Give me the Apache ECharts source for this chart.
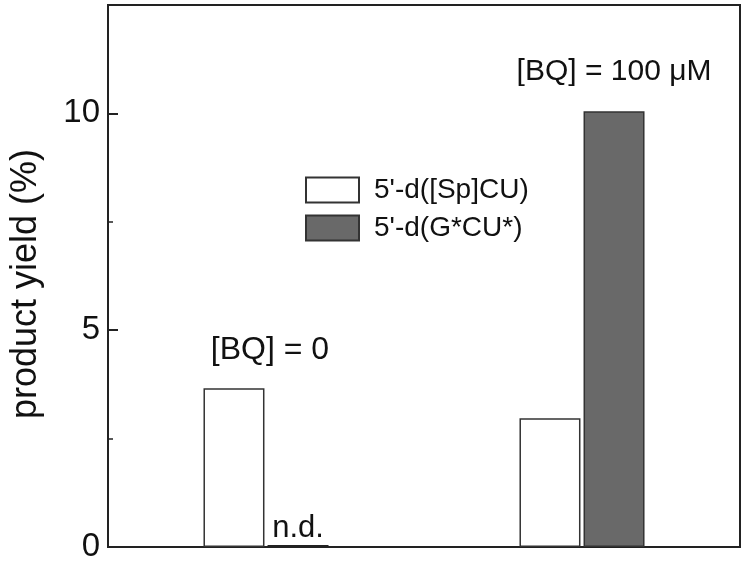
<!DOCTYPE html>
<html>
<head>
<meta charset="utf-8">
<script src="https://cdn.jsdelivr.net/npm/echarts@6/dist/echarts.min.js"></script>
<style>html,body{margin:0;padding:0;background:#fff;}#c{width:750px;height:564px;}</style>
</head>
<body>
<div id="c"></div>
<script>
const categories = ['[BQ] = 0', '[BQ] = 100 μM'];
const seriesNames = ["5'-d([Sp]CU)", "5'-d(G*CU*)"];
const spCU = [3.66, 2.97];
const gCU = [0, 10.05];
const yTicks = [0, 5, 10];

const FONT = 'Liberation Sans, Arial, Helvetica, sans-serif';
const chart = echarts.init(document.getElementById('c'), null, {renderer: 'canvas'});
chart.setOption({
  animation: false,
  backgroundColor: '#fff',
  grid: {left: 108, right: 10, top: 5, bottom: 17, containLabel: false, outerBoundsMode: 'none',
    show: true, borderColor: '#222', borderWidth: 2, backgroundColor: 'transparent'},
  legend: {
    orient: 'vertical', left: 305, top: 176, itemWidth: 53, itemHeight: 25, itemGap: 10, padding: 0,
    icon: 'rect',
    data: seriesNames,
    textStyle: {fontFamily: FONT, fontSize: 28, color: '#111', padding: [0, 0, 0, 10]}
  },
  xAxis: {
    type: 'category', data: categories,
    axisLine: {show: true, lineStyle: {color: '#222', width: 2}},
    axisTick: {show: false}, axisLabel: {show: false}, splitLine: {show: false}
  },
  yAxis: {
    type: 'value', min: 0, max: 12.5, interval: 5,
    name: 'product yield (%)', nameLocation: 'middle', nameGap: 64,
    nameTextStyle: {fontFamily: FONT, fontSize: 36, color: '#111', padding: [0, 16, 0, 0]},
    axisLine: {show: true, lineStyle: {color: '#222', width: 2}},
    axisTick: {show: true, inside: true, length: 10, lineStyle: {color: '#222', width: 2}},
    minorTick: {show: true, splitNumber: 2, length: 5, lineStyle: {color: '#222', width: 1.5}},
    axisLabel: {fontFamily: FONT, fontSize: 33, color: '#111', margin: 8,
      formatter: v => yTicks.includes(v) ? String(v) : ''},
    splitLine: {show: false}
  },
  series: [
    {
      name: seriesNames[0], type: 'bar', barWidth: 61, barGap: '5%',
      itemStyle: {color: '#fff', borderColor: '#333', borderWidth: 1.5},
      data: [
        {value: spCU[0], label: {show: true, position: 'top', distance: 22, offset: [36, 0], formatter: categories[0],
          fontFamily: FONT, fontSize: 32, color: '#111'}},
        spCU[1]
      ]
    },
    {
      name: seriesNames[1], type: 'bar', barWidth: 61, barGap: '5%', barMinHeight: 2,
      itemStyle: {color: '#696969', borderColor: '#333', borderWidth: 1.5},
      data: [
        {value: gCU[0], itemStyle: {color: '#222', borderWidth: 0},
          label: {show: true, position: 'top', distance: 1, formatter: 'n.d.', fontFamily: FONT, fontSize: 31, color: '#111'}},
        {value: gCU[1], label: {show: true, position: 'top', distance: 24, formatter: categories[1],
          fontFamily: FONT, fontSize: 30, color: '#111'}}
      ]
    }
  ]
});
</script>
</body>
</html>
